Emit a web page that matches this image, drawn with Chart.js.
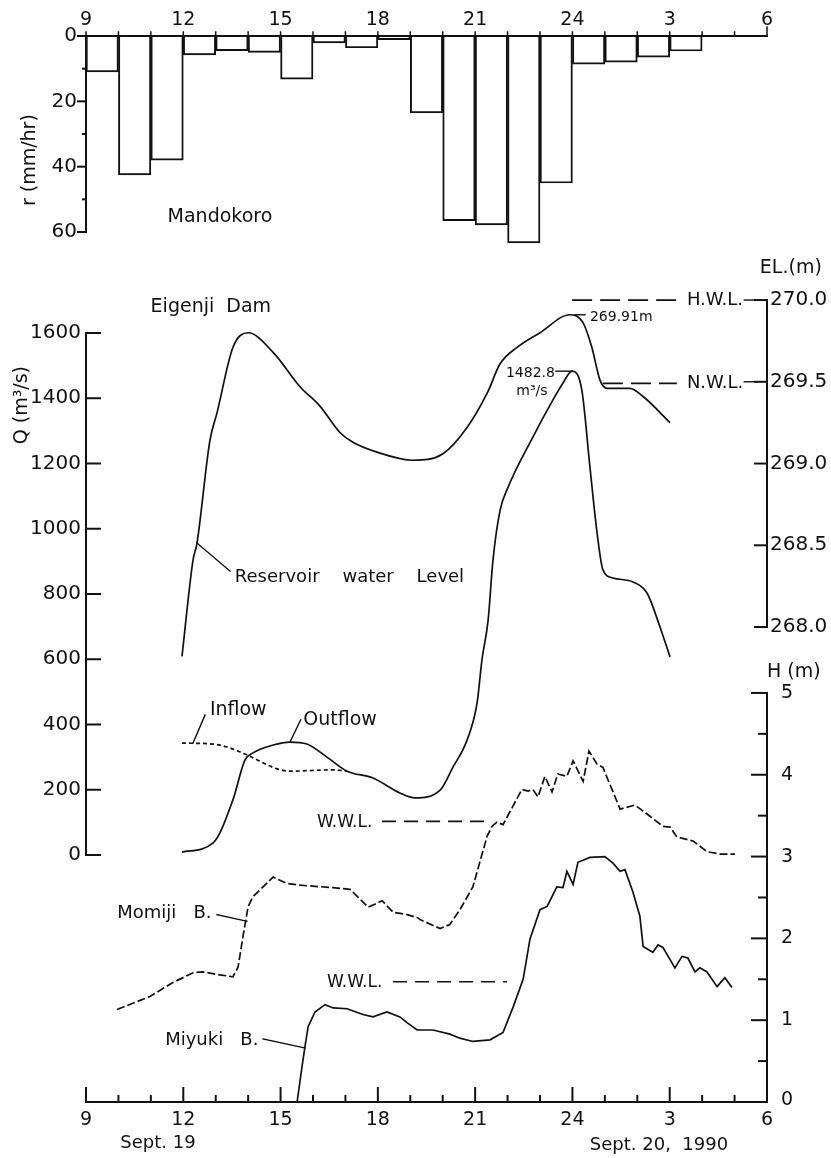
<!DOCTYPE html>
<html>
<head>
<meta charset="utf-8">
<title>Eigenji Dam – Sept. 19-20, 1990</title>
<script src="https://cdn.jsdelivr.net/npm/chart.js@4.4.1/dist/chart.umd.min.js"></script>
<style>
  html, body { margin: 0; padding: 0; background: #fff; }
  #wrap { position: relative; width: 831px; height: 1158px; }
</style>
</head>
<body>
<div id="wrap"><canvas id="chart"></canvas></div>
<script>
// hours counted from 0:00 Sept. 19 (27 = 3:00 Sept. 20)
const hourTicks = [9, 12, 15, 18, 21, 24, 27, 30];
const hourLabels = ['9', '12', '15', '18', '21', '24', '3', '6'];

const rainTicks = [0, 20, 40, 60];
const qTicks = [0, 200, 400, 600, 800, 1000, 1200, 1400, 1600];
const elTicks = [268.0, 268.5, 269.0, 269.5, 270.0];
const hTicks = [0, 1, 2, 3, 4, 5];

// Mandokoro hourly rainfall, bar centred on its hour
const rainHours = [9.5, 10.5, 11.5, 12.5, 13.5, 14.5, 15.5, 16.5, 17.5, 18.5, 19.5, 20.5, 21.5, 22.5, 23.5, 24.5, 25.5, 26.5, 27.5];
const rainMm = [11, 42.5, 38, 5.8, 4.5, 5.0, 13.2, 2.1, 3.6, 1.1, 23.5, 56.5, 57.8, 63.3, 45, 8.6, 8, 6.5, 4.6];

// reservoir water level (EL, m)
const levelHours = [11.96, 12.3, 12.42, 12.82, 13.04, 13.53, 14.0, 14.77, 15.6, 16.22, 16.83, 17.23, 17.97, 19.08, 20.01, 20.75, 21.37, 21.77, 22.29, 23.0, 23.92, 24.33, 24.6, 24.85, 25.07, 25.77, 26.18, 27.01];
const levelEL = [267.82, 268.41, 268.51, 269.14, 269.31, 269.71, 269.8, 269.68, 269.47, 269.35, 269.19, 269.13, 269.07, 269.02, 269.06, 269.22, 269.43, 269.61, 269.71, 269.8, 269.91, 269.86, 269.71, 269.51, 269.46, 269.46, 269.41, 269.25];

// outflow and inflow (m3/s)
const outHours = [11.96, 12.92, 13.53, 13.9, 14.15, 14.77, 15.29, 15.81, 16.43, 17.05, 17.85, 18.68, 19.14, 19.92, 20.32, 20.75, 21.06, 21.21, 21.4, 21.55, 21.77, 21.98, 22.78, 23.4, 23.71, 23.99, 24.29, 24.54, 24.76, 24.94, 25.25, 25.87, 26.3, 26.7, 27.01];
const outQ = [9, 37, 169, 291, 313, 337, 346, 340, 300, 257, 236, 190, 175, 199, 270, 352, 466, 598, 720, 904, 1057, 1119, 1281, 1395, 1447, 1483, 1425, 1189, 987, 874, 849, 837, 803, 699, 607];
const inHours = [11.96, 12.92, 13.35, 13.96, 14.89, 15.29, 16.62, 17.05];
const inQ = [343, 340, 331, 307, 264, 257, 261, 257];

// river stages H (m)
const momijiHours = [9.96, 10.97, 11.68, 12.3, 12.61, 13.04, 13.53, 13.69, 13.84, 14.0, 14.15, 14.46, 14.77, 15.2, 15.6, 16.62, 17.14, 17.45, 17.7, 18.13, 18.47, 18.9, 19.24, 19.3, 19.92, 20.22, 20.53, 20.93, 21.37, 21.52, 21.67, 21.86, 22.17, 22.44, 22.63, 22.78, 22.94, 23.15, 23.37, 23.55, 23.83, 24.02, 24.33, 24.51, 24.76, 24.94, 25.47, 25.93, 26.3, 26.79, 27.01, 27.22, 27.72, 28.15, 28.55, 29.01];
const momijiH = [1.13, 1.29, 1.46, 1.58, 1.59, 1.56, 1.53, 1.65, 2.02, 2.39, 2.51, 2.63, 2.75, 2.67, 2.65, 2.62, 2.6, 2.48, 2.38, 2.46, 2.32, 2.29, 2.25, 2.23, 2.12, 2.17, 2.35, 2.63, 3.25, 3.37, 3.42, 3.39, 3.62, 3.82, 3.8, 3.82, 3.73, 3.98, 3.79, 4.01, 3.98, 4.17, 3.92, 4.29, 4.13, 4.09, 3.58, 3.63, 3.52, 3.37, 3.36, 3.24, 3.19, 3.06, 3.03, 3.03];
const miyukiHours = [15.51, 15.66, 15.75, 15.85, 16.06, 16.37, 16.62, 17.05, 17.54, 17.85, 18.28, 18.68, 18.9, 19.21, 19.7, 20.22, 20.53, 20.93, 21.46, 21.86, 22.17, 22.48, 22.69, 23.0, 23.22, 23.52, 23.71, 23.83, 24.02, 24.17, 24.54, 25.0, 25.25, 25.47, 25.62, 25.87, 26.08, 26.18, 26.48, 26.64, 26.79, 27.16, 27.38, 27.56, 27.78, 27.93, 28.15, 28.46, 28.7, 28.92];
const miyukiH = [0.0, 0.43, 0.67, 0.92, 1.1, 1.19, 1.15, 1.14, 1.07, 1.04, 1.1, 1.04, 0.97, 0.88, 0.88, 0.83, 0.78, 0.74, 0.76, 0.85, 1.16, 1.5, 1.99, 2.35, 2.39, 2.63, 2.62, 2.82, 2.66, 2.93, 2.99, 3.0, 2.92, 2.82, 2.84, 2.56, 2.27, 1.9, 1.83, 1.92, 1.89, 1.64, 1.78, 1.76, 1.59, 1.64, 1.59, 1.41, 1.52, 1.4];

// reference levels
const hwlHours = [23.99, 27.22];
const hwlEL = [270.0, 270.0];
const nwlHours = [24.94, 27.22];
const nwlEL = [269.49, 269.49];
const wwlMomijiHours = [18.13, 21.52];
const wwlMomijiH = [3.43, 3.43];
const wwlMiyukiHours = [18.47, 21.98];
const wwlMiyukiH = [1.47, 1.47];

const ink = '#111';
const zip = (xs, ys) => xs.map((x, i) => ({ x: x, y: ys[i] }));
const fontOf = (size) => size + 'px "DejaVu Sans", sans-serif';

function lineSet(xs, ys, axis, dash, smooth) {
  return {
    type: 'line', data: zip(xs, ys), yAxisID: axis,
    borderColor: ink, borderWidth: 1.7, borderDash: dash || [],
    pointRadius: 0, fill: false,
    cubicInterpolationMode: smooth ? 'monotone' : 'default', tension: 0
  };
}

// free text & leader lines, placed in data units of a scale
const notes = [
  { t: 'Mandokoro', x: 13.13, y: 55.4, s: 'yR', a: 'center', f: 19 },
  { t: 'Eigenji  Dam', x: 12.85, y: 1680, s: 'yQ', a: 'center', f: 19 },
  { t: 'Reservoir    water    Level', x: 13.59, y: 268.306, s: 'yEL', a: 'left', f: 18 },
  { t: 'Inflow', x: 12.82, y: 444, s: 'yQ', a: 'left', f: 19 },
  { t: 'Outflow', x: 15.7, y: 414, s: 'yQ', a: 'left', f: 19 },
  { t: 'W.W.L.', x: 16.12, y: 3.41, s: 'yH', a: 'left', f: 17 },
  { t: 'W.W.L.', x: 16.43, y: 1.455, s: 'yH', a: 'left', f: 17 },
  { t: 'Momiji   B.', x: 9.96, y: 2.31, s: 'yH', a: 'left', f: 18 },
  { t: 'Miyuki   B.', x: 11.44, y: 0.758, s: 'yH', a: 'left', f: 18 },
  { t: '1482.8', x: 23.46, y: 1477, s: 'yQ', a: 'right', f: 14 },
  { t: 'm³/s', x: 22.75, y: 1422, s: 'yQ', a: 'center', f: 14 },
  { t: '269.91m', x: 24.54, y: 269.896, s: 'yEL', a: 'left', f: 14 },
  { t: 'H.W.L.', x: 27.53, y: 270.0, s: 'yEL', a: 'left', f: 18 },
  { t: 'N.W.L.', x: 27.53, y: 269.49, s: 'yEL', a: 'left', f: 18 },
  { t: 'EL.(m)', x: 29.78, y: 270.196, s: 'yEL', a: 'left', f: 19 },
  { t: 'H (m)', x: 30.0, y: 5.26, s: 'yH', a: 'left', f: 19 },
  { t: 'Sept. 19', x: 11.22, y: -0.5, s: 'yH', a: 'center', f: 18 },
  { t: 'Sept. 20,  1990', x: 26.67, y: -0.53, s: 'yH', a: 'center', f: 18 }
];
const leaders = [
  { s: 'yEL', pts: [[12.42, 268.514], [13.44, 268.343]] },
  { s: 'yQ', pts: [[12.3, 343], [12.67, 429]] },
  { s: 'yQ', pts: [[15.29, 346], [15.62, 414]] },
  { s: 'yH', pts: [[13.04, 2.29], [13.96, 2.21]] },
  { s: 'yH', pts: [[14.46, 0.77], [15.75, 0.66]] },
  { s: 'yQ', pts: [[23.49, 1483], [23.99, 1483]] },
  { s: 'yEL', pts: [[24.08, 269.91], [24.39, 269.91]] },
  { s: 'yEL', pts: [[29.3, 270.0], [29.63, 270.0]] },
  { s: 'yEL', pts: [[29.3, 269.5], [29.63, 269.5]] }
];

const paperAxes = {
  id: 'paperAxes',
  afterDraw(chart) {
    const { ctx, scales, chartArea } = chart;
    const x = scales.x, yR = scales.yR, yQ = scales.yQ, yEL = scales.yEL, yH = scales.yH;
    const left = x.getPixelForValue(9), right = x.getPixelForValue(30);
    const bottom = chartArea.bottom;
    ctx.save();
    ctx.strokeStyle = ink;
    ctx.fillStyle = ink;
    ctx.lineCap = 'square';
    const seg = (x1, y1, x2, y2, w) => {
      ctx.lineWidth = w || 2;
      ctx.beginPath(); ctx.moveTo(x1, y1); ctx.lineTo(x2, y2); ctx.stroke();
    };
    const text = (s, px, py, align, size) => {
      ctx.font = fontOf(size);
      ctx.textAlign = align;
      ctx.textBaseline = 'middle';
      ctx.fillText(s, px, py);
    };

    // rainfall: top time axis and r axis
    const r0 = yR.getPixelForValue(0);
    seg(left, r0, right, r0);
    for (let h = 9; h <= 30; h++) {
      const px = x.getPixelForValue(h);
      seg(px, r0, px, r0 - (h === 30 ? 9 : 4), 1.5);
    }
    hourTicks.forEach((h, i) => text(hourLabels[i], x.getPixelForValue(h), r0 - 16, 'center', 19));
    seg(left, r0, left, yR.getPixelForValue(60));
    for (let v = 0; v <= 60; v += 10) {
      const py = yR.getPixelForValue(v);
      seg(left, py, left - (v % 20 === 0 ? 8 : 3), py, 2);
    }
    rainTicks.forEach(v => text(String(v), left - 9, yR.getPixelForValue(v), 'right', 20));

    // Q axis (ticks inward)
    seg(left, yQ.getPixelForValue(0), left, yQ.getPixelForValue(1600));
    qTicks.forEach(v => {
      const py = yQ.getPixelForValue(v);
      seg(left, py, left + 14, py, 2);
      text(String(v), left - 5, py, 'right', 20);
    });

    // EL axis on the right
    seg(right, yEL.getPixelForValue(268), right, yEL.getPixelForValue(270));
    elTicks.forEach(v => {
      const py = yEL.getPixelForValue(v);
      seg(right, py, right - 12, py, 2);
      text(v.toFixed(1), right + 3, py, 'left', 20);
    });

    // H axis on the right
    seg(right, yH.getPixelForValue(0), right, yH.getPixelForValue(5));
    for (let v = 0; v <= 5; v += 0.5) {
      const py = yH.getPixelForValue(v);
      seg(right, py, right - (v % 1 === 0 ? 15 : 8), py, 2);
    }
    hTicks.filter(v => v > 0).forEach(v => text(String(v), right + 20, yH.getPixelForValue(v), 'center', 19));
    text('0', right + 20, yH.getPixelForValue(0) - 2, 'center', 19);

    // bottom time axis
    seg(left, bottom, right, bottom);
    for (let h = 9; h <= 30; h++) {
      const px = x.getPixelForValue(h);
      seg(px, bottom, px, bottom - ((h - 9) % 3 === 0 ? 14 : 6), 2);
    }
    hourTicks.forEach((h, i) => text(hourLabels[i], x.getPixelForValue(h), bottom + 18, 'center', 19));

    // axis titles
    ctx.save();
    ctx.translate(x.getPixelForValue(7.27), yR.getPixelForValue(38));
    ctx.rotate(-Math.PI / 2);
    text('r (mm/hr)', 0, 0, 'center', 19);
    ctx.restore();
    ctx.save();
    ctx.translate(x.getPixelForValue(7.03), yQ.getPixelForValue(1379));
    ctx.rotate(-Math.PI / 2);
    text('Q (m³/s)', 0, 0, 'center', 19);
    ctx.restore();

    // annotations
    leaders.forEach(l => {
      const sc = scales[l.s];
      seg(x.getPixelForValue(l.pts[0][0]), sc.getPixelForValue(l.pts[0][1]),
          x.getPixelForValue(l.pts[1][0]), sc.getPixelForValue(l.pts[1][1]), 1.4);
    });
    notes.forEach(n => text(n.t, x.getPixelForValue(n.x), scales[n.s].getPixelForValue(n.y), n.a, n.f));
    ctx.restore();
  }
};

new Chart(document.getElementById('chart'), {
  type: 'line',
  data: {
    datasets: [
      {
        type: 'bar', data: zip(rainHours, rainMm), yAxisID: 'yR',
        backgroundColor: 'rgba(255,255,255,0)', borderColor: ink, borderWidth: 1.3,
        barPercentage: 1, categoryPercentage: 1
      },
      lineSet(levelHours, levelEL, 'yEL', [], true),
      lineSet(outHours, outQ, 'yQ', [], true),
      lineSet(inHours, inQ, 'yQ', [4, 3], true),
      lineSet(momijiHours, momijiH, 'yH', [8, 3], false),
      lineSet(miyukiHours, miyukiH, 'yH', [], false),
      lineSet(hwlHours, hwlEL, 'yEL', [20, 8], false),
      lineSet(nwlHours, nwlEL, 'yEL', [20, 8], false),
      lineSet(wwlMomijiHours, wwlMomijiH, 'yH', [14, 8], false),
      lineSet(wwlMiyukiHours, wwlMiyukiH, 'yH', [14, 8], false)
    ]
  },
  options: {
    responsive: true,
    maintainAspectRatio: false,
    animation: false,
    events: [],
    layout: { padding: { left: 86, right: 64, top: 36, bottom: 56 } },
    plugins: { legend: { display: false }, tooltip: { enabled: false } },
    scales: {
      x: { type: 'linear', min: 9, max: 30, offset: false, display: false, ticks: { stepSize: 1 } },
      yR: { type: 'linear', reverse: true, min: 0, max: 326.3, display: false },
      yQ: { type: 'linear', min: -757.1, max: 2510.3, display: false },
      yEL: { type: 'linear', min: 265.095, max: 271.615, display: false },
      yH: { type: 'linear', min: 0, max: 13.03, display: false }
    }
  },
  plugins: [paperAxes]
});
</script>
</body>
</html>
